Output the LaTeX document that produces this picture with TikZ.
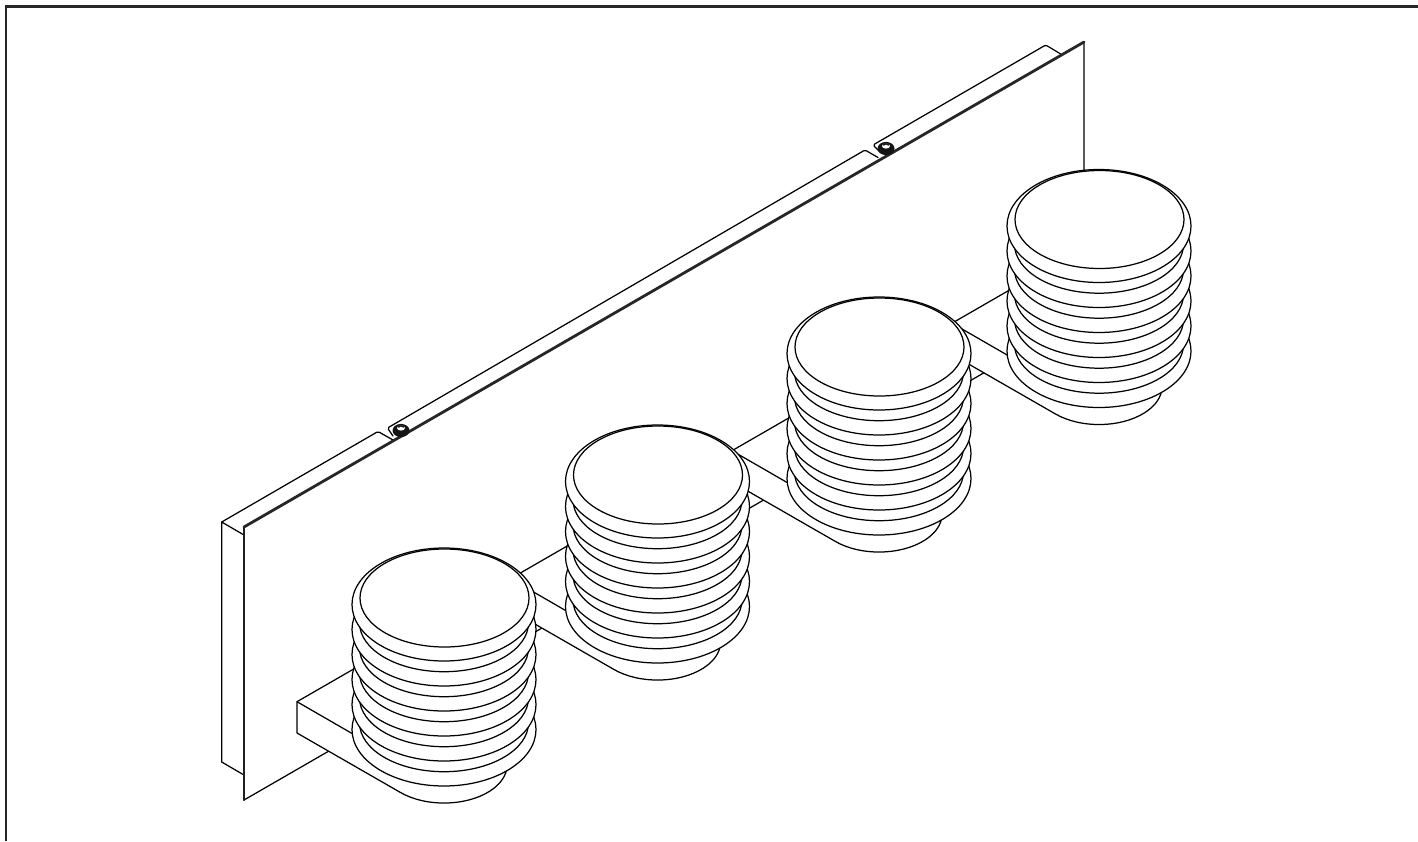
\documentclass[tikz,border=0pt]{standalone}
\tikzset{
  ln/.style={line width=0.62pt,draw=black,line join=round,line cap=round},
  edgethick/.style={line width=1.05pt,draw=black!88,line cap=round,line join=round},
  edgetop/.style={line width=1.4pt,draw=black!85,line cap=round,line join=round},
  frameline/.style={line width=1.15pt,draw=black!85},
  solidw/.style={fill=white,draw=none}
}
\newcommand{\stackunit}[2]{%
\begin{scope}[shift={(#1,#2)}]
  % bracket
  \fill[white] (-147,153.7) -- (-60,103.5) -- (40,150) -- (63,217) -- (-43.5,244.5) -- (-147,185) -- cycle;
  \path[solidw] (-43.5,244.5) arc[start angle=133.7,end angle=8,x radius=63,y radius=38] -- (0,200) -- cycle;
  \draw[ln] (-60,103.5) -- (-147,153.7) -- (-147,185) -- (-43.5,244.5)
     arc[start angle=133.7,end angle=8,x radius=63,y radius=38];
  \draw[ln] (-147,153.7) -- (-77,194.1);
  % flanges and necks, bottom to top
  \foreach \k in {5,4,3,2,1}{
    \draw[ln,fill=white] (0,56.5+25*\k) circle[x radius=92,y radius=56.5];
    \draw[ln,fill=white] (0,74.7+25*\k-25) circle[x radius=84.5,y radius=49];
  }
  \draw[ln,fill=white] (0,56.5) circle[x radius=92,y radius=56.5];
  \draw[ln,fill=white] (0.5,50) circle[x radius=84.5,y radius=49];
\end{scope}}
\newcommand{\screwhead}[2]{%
\begin{scope}[shift={(#1,#2)}]
  \fill[black!92] (0,1) circle[x radius=8.5,y radius=6.6];
  \fill[white] (0,-1.5) circle[x radius=4,y radius=2.6];
  \draw[line width=0.7pt,black!92] (-2.6,-2) arc[start angle=180,end angle=360,x radius=2.6,y radius=1.6];
\end{scope}}
\begin{document}
\begin{tikzpicture}[x=0.5pt,y=-0.5pt]
\useasboundingbox (0,0) rectangle (1418,841);
\fill[white] (0,0) rectangle (1418,841);
\draw[frameline] (6,841) -- (6,6.5) -- (1418,6.5);
% rear strip
\draw[ln] (244,535) -- (221.7,522) -- (221.7,762) -- (244,775);
\draw[ln,rounded corners=0.8pt] (221.7,522) -- (378,431.5) -- (393,440);
\draw[ln,rounded corners=0.8pt] (393,436) -- (387.5,428) -- (865,150) -- (878,157.5);
\draw[ln,rounded corners=0.8pt] (880,152) -- (873,145) -- (1045.7,45) -- (1060.7,54);
% plate
\draw[ln] (244,800) -- (400,710) -- (1084,315) -- (1084,42);
\draw[edgethick] (244,800) -- (244,527);
\draw[edgetop] (244,527) -- (1084,42);
\screwhead{401}{429.5}
\screwhead{886}{147.5}
% units, far to near
\stackunit{1099}{169.5}
\stackunit{879}{297}
\stackunit{657.5}{425}
\stackunit{444}{548}
\end{tikzpicture}
\end{document}
